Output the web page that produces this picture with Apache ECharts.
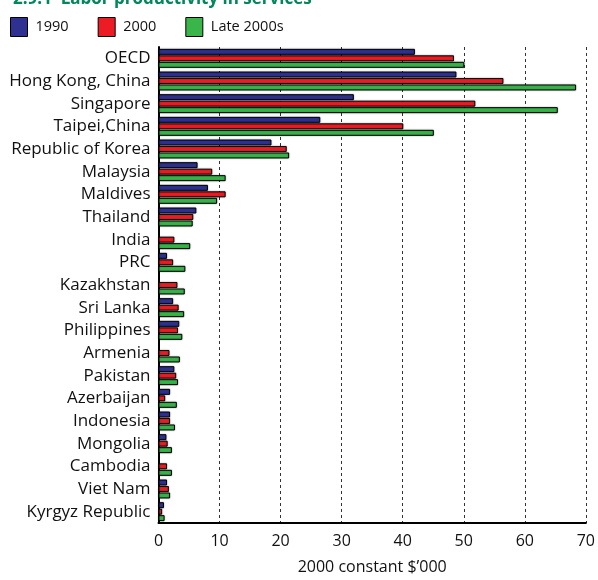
<!DOCTYPE html>
<html><head><meta charset="utf-8">
<script src="https://cdn.jsdelivr.net/npm/echarts@6/dist/echarts.min.js"></script>
<style>html,body{margin:0;padding:0;background:#fff}#c{width:598px;height:580px}</style>
</head><body><div id="c"></div>
<script>
const categories = ["OECD","Hong Kong, China","Singapore","Taipei,China","Republic of Korea","Malaysia","Maldives","Thailand","India","PRC","Kazakhstan","Sri Lanka","Philippines","Armenia","Pakistan","Azerbaijan","Indonesia","Mongolia","Cambodia","Viet Nam","Kyrgyz Republic"];
const v1990 = [42.0,48.8,32.0,26.5,18.5,6.4,8.1,6.2,null,1.4,null,2.4,3.4,null,2.6,1.9,1.9,1.3,null,1.4,0.9];
const v2000 = [48.4,56.5,51.9,40.1,21.0,8.8,11.0,5.7,2.6,2.4,3.1,3.3,3.2,1.8,2.9,1.1,1.9,1.5,1.4,1.7,0.6];
const vLate = [50.1,68.4,65.4,45.1,21.4,11.0,9.6,5.6,5.2,4.4,4.3,4.2,3.9,3.5,3.2,3.0,2.7,2.2,2.2,1.9,1.0];
const xTicks = [0,10,20,30,40,50,60,70];
const F = "'Open Sans', 'Noto Sans', sans-serif";
const chart = echarts.init(document.getElementById('c'), null, {renderer:'canvas'});
function s(name, data, color){
  return {name, type:'bar', data, barWidth:6, barGap:'8%',
    itemStyle:{color, borderColor:'#000', borderWidth:1, shadowColor:'rgba(0,0,0,0.3)', shadowBlur:2},
    emphasis:{disabled:true}};
}
chart.setOption({
  animation:false,
  title:{text:'2.9.1  Labor productivity in services', left:8, top:-14,
    textStyle:{color:'#00875a', fontSize:17, fontWeight:'bold', fontFamily:F}},
  legend:{left:5, top:12, itemWidth:17, itemHeight:19, itemGap:29, icon:'rect',
    textStyle:{fontSize:14.5, color:'#111', fontFamily:F, padding:[0,0,0,3]},
    itemStyle:{borderColor:'#000', borderWidth:1},
    data:['1990','2000','Late 2000s']},
  grid:{left:158.5, right:9.5, top:47, bottom:49, containLabel:false},
  xAxis:{type:'value', min:0, max:70, interval:10,
    axisLine:{show:true, lineStyle:{color:'#000', width:2}},
    axisTick:{show:false},
    axisLabel:{fontSize:16, color:'#111', fontFamily:F, margin:10,
      formatter:(v)=> xTicks.includes(v) ? String(v) : ''},
    splitLine:{show:true, lineStyle:{color:'#333', type:[3,3], width:1}},
    name:"2000 constant $\u2019000", nameLocation:'middle', nameGap:36,
    nameTextStyle:{fontSize:16, color:'#111', fontFamily:F}},
  yAxis:{type:'category', data:categories, inverse:true,
    axisLine:{show:true, lineStyle:{color:'#000', width:2}},
    axisTick:{show:false},
    axisLabel:{fontSize:17, color:'#111', fontFamily:F, margin:8}},
  series:[s('1990', v1990, '#2e3192'), s('2000', v2000, '#ed1c24'), s('Late 2000s', vLate, '#39b54a')]
});
</script></body></html>
